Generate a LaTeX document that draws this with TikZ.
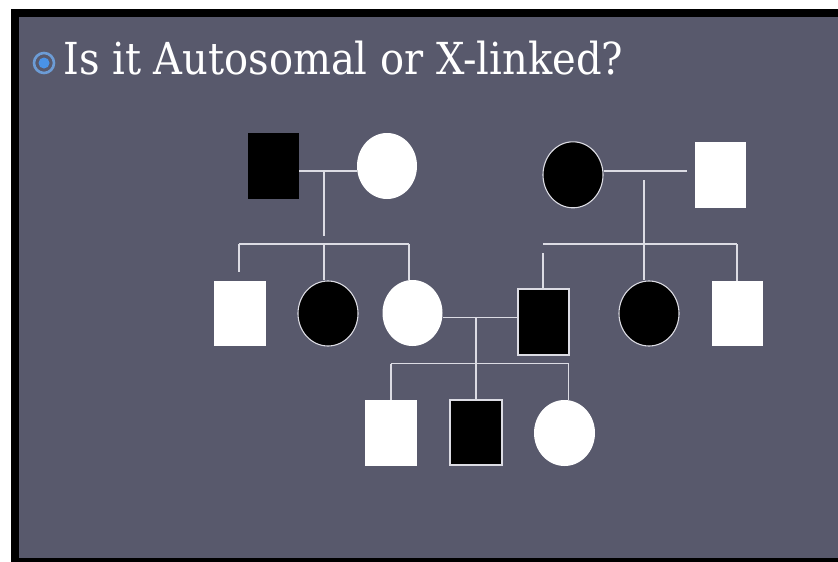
\documentclass[tikz,border=0pt]{standalone}
\usepackage{fontspec}
\setmainfont{DejaVu Serif}
\usetikzlibrary{shapes.geometric}
\definecolor{slide}{RGB}{88,89,108}
\definecolor{lineclr}{RGB}{220,220,228}
\definecolor{ringblue}{RGB}{108,156,214}
\definecolor{dotblue}{RGB}{74,146,230}
\tikzset{
  male/.style={rectangle,minimum width=51pt,minimum height=66pt,inner sep=0pt},
  female/.style={ellipse,minimum width=60pt,minimum height=66pt,inner sep=0pt},
  unaff/.style={fill=white,draw=none},
  aff/.style={fill=black,draw=lineclr,line width=1.1pt},
  link/.style={draw=lineclr,line width=1.8pt},
}
\begin{document}
\begin{tikzpicture}[x=1pt,y=-1pt]
  % slide frame
  \useasboundingbox (0,0) rectangle (838,562);
  \fill[white] (0,0) rectangle (838,562);
  \fill[black] (11,9) rectangle (838,562);
  \fill[slide] (19,17) rectangle (838,558);

  % title with bullet
  \draw[ringblue,line width=2.6pt] (44,63) circle (10);
  \fill[dotblue] (44,63) circle (5.5);
  \node[anchor=base west,inner sep=0pt,text=white] (title) at (63,74.3)
    {\resizebox{560pt}{33.5pt}{Is it Autosomal or X-linked?}};

  % generation I
  \node[male,fill=black] (I1) at (273.5,166) {};
  \node[female,unaff] (I2) at (387,166) {};
  \node[female,aff] (I3) at (573,174.8) {};
  \node[male,unaff] (I4) at (720.5,175) {};

  % generation II
  \node[male,unaff,minimum width=52pt,minimum height=65pt] (II1) at (239.5,313.5) {};
  \node[female,aff,minimum height=65pt] (II2) at (328,313.5) {};
  \node[female,unaff] (II3) at (412.5,313) {};
  \node[male,aff] (II4) at (543.5,322) {};
  \node[female,aff,minimum height=65pt] (II5) at (649,313.5) {};
  \node[male,unaff,minimum height=65pt] (II6) at (737.5,313.5) {};

  % generation III
  \node[male,unaff,minimum width=52pt] (III1) at (391,433) {};
  \node[male,aff,minimum width=52pt,minimum height=65pt] (III2) at (476,432.5) {};
  \node[female,unaff,minimum width=61pt] (III3) at (564.5,433) {};

  % left family: mating line, descent, sibship
  \coordinate (mA) at (324,171);
  \coordinate (mAe) at (324,236);
  \coordinate (sAl) at (239,244);
  \coordinate (sAm) at (324,244);
  \coordinate (sAr) at (409,244);
  \coordinate (dA1) at (239,272);
  \draw[link] (I1.east |- mA) -- (I2.west |- mA);
  \draw[link] (mA) -- (mAe);
  \draw[link] (sAl) -- (sAr);
  \draw[link] (sAl) -- (dA1);
  \draw[link] (sAm) -- (sAm |- II2.north);
  \draw[link] (sAr) -- (sAr |- II3.north);

  % right family
  \coordinate (mB) at (644,171);
  \coordinate (mBe) at (687,171);
  \coordinate (vB) at (644,180);
  \coordinate (sBl) at (543,244);
  \coordinate (sBr) at (737,244);
  \coordinate (dB1) at (543,253);
  \draw[link] (I3.east |- mB) -- (mBe);
  \draw[link] (vB) -- (vB |- II5.north);
  \draw[link] (sBl) -- (sBr);
  \draw[link] (sBr) -- (sBr |- II6.north);
  \draw[link] (dB1) -- (dB1 |- II4.north);

  % generation II couple and their children
  \coordinate (mC) at (476,317.5);
  \coordinate (sCl) at (391,363.5);
  \coordinate (sCr) at (568.5,363.5);
  \draw[link] (II3.east |- mC) -- (II4.west |- mC);
  \draw[link] (mC) -- (mC |- III2.north);
  \draw[link] (sCl) -- (sCr);
  \draw[link] (sCl) -- (III1.north);
  \draw[link] (sCr) -- (sCr |- III3.north);
\end{tikzpicture}
\end{document}
